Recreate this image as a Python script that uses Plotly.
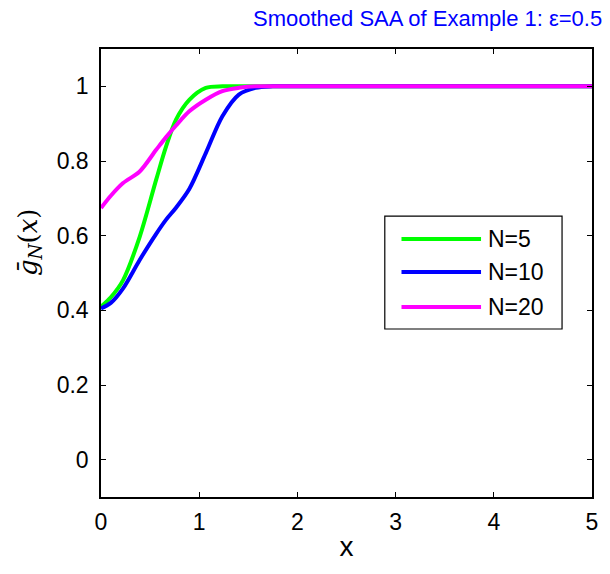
import plotly.graph_objects as go

x_vals = [0.0, 0.1, 0.225, 0.394, 0.562, 0.663, 0.764, 0.899, 1.067, 1.236, 1.404, 1.573, 1.75, 2.0, 3.0, 4.0, 5.0]
n5 = [0.41, 0.435, 0.481, 0.597, 0.75, 0.839, 0.911, 0.964, 0.996, 1.0, 1.0, 1.0, 1.0, 1.0, 1.0, 1.0, 1.0]
n10 = [0.405, 0.42, 0.459, 0.535, 0.605, 0.643, 0.675, 0.725, 0.821, 0.92, 0.978, 0.996, 1.0, 1.0, 1.0, 1.0, 1.0]
n20 = [0.674, 0.707, 0.741, 0.772, 0.83, 0.864, 0.895, 0.933, 0.964, 0.987, 0.996, 1.0, 1.0, 1.0, 1.0, 1.0, 1.0]

series = [("N=5", n5, "#00ff00"), ("N=10", n10, "#0000ff"), ("N=20", n20, "#ff00ff")]

x_ticks = [0, 1, 2, 3, 4, 5]
y_ticks = [0, 0.2, 0.4, 0.6, 0.8, 1]
y_tick_text = ["0", "0.2", "0.4", "0.6", "0.8", "1"]

fig = go.Figure()
for name, ys, color in series:
    fig.add_trace(go.Scatter(x=x_vals, y=ys, mode="lines", name=name, showlegend=False,
                             line=dict(color=color, width=4, shape="spline", smoothing=0.9)))

font = "Liberation Sans, Arial, sans-serif"
axis_common = dict(showline=True, linecolor="black", linewidth=1.5, mirror="ticks",
                   ticks="inside", ticklen=5, tickcolor="black", tickwidth=1,
                   showgrid=False, zeroline=False, tickfont=dict(family=font, size=23, color="black"))

fig.update_layout(
    width=610, height=574,
    margin=dict(l=101, r=14, t=49, b=77),
    paper_bgcolor="white", plot_bgcolor="white",
    showlegend=False,
    xaxis=dict(range=[0, 5], tickvals=x_ticks, ticklabelstandoff=4, **axis_common,
               title=dict(text="x", font=dict(family=font, size=28, color="black"), standoff=2)),
    yaxis=dict(range=[-0.1, 1.1], tickvals=y_ticks, ticktext=y_tick_text, ticklabelstandoff=6, **axis_common),
)

# legend box (manual, to match long legend lines)
fig.add_shape(type="rect", xref="paper", yref="paper", x0=0.578, x1=0.939, y0=0.375, y1=0.627,
              line=dict(color="black", width=1.2), fillcolor="white", layer="above")
leg_rows = [0.576, 0.502, 0.424]
for (name, ys, color), yy in zip(series, leg_rows):
    fig.add_shape(type="line", xref="paper", yref="paper", x0=0.612, x1=0.774, y0=yy, y1=yy,
                  line=dict(color=color, width=4), layer="above")
    fig.add_annotation(text=name, xref="paper", yref="paper", x=0.784, y=yy, xanchor="left",
                       yanchor="middle", showarrow=False,
                       font=dict(family=font, size=23, color="black"))

fig.add_annotation(text="Smoothed SAA of Example 1: ε=0.5", xref="paper", yref="paper",
                   x=0.665, y=1.0, xanchor="center", yanchor="middle", yshift=31, showarrow=False,
                   font=dict(family=font, size=22, color="#0000ff"))

fig.add_annotation(text="<i>ḡ</i><sub><i>N</i></sub>(<i>x</i>)", xref="paper", yref="paper",
                   x=0, y=0.569, xshift=-72, xanchor="center", yanchor="middle", textangle=-90,
                   showarrow=False,
                   font=dict(family="DejaVu Serif, serif", size=26, color="black"))

fig.write_html("out.html")
